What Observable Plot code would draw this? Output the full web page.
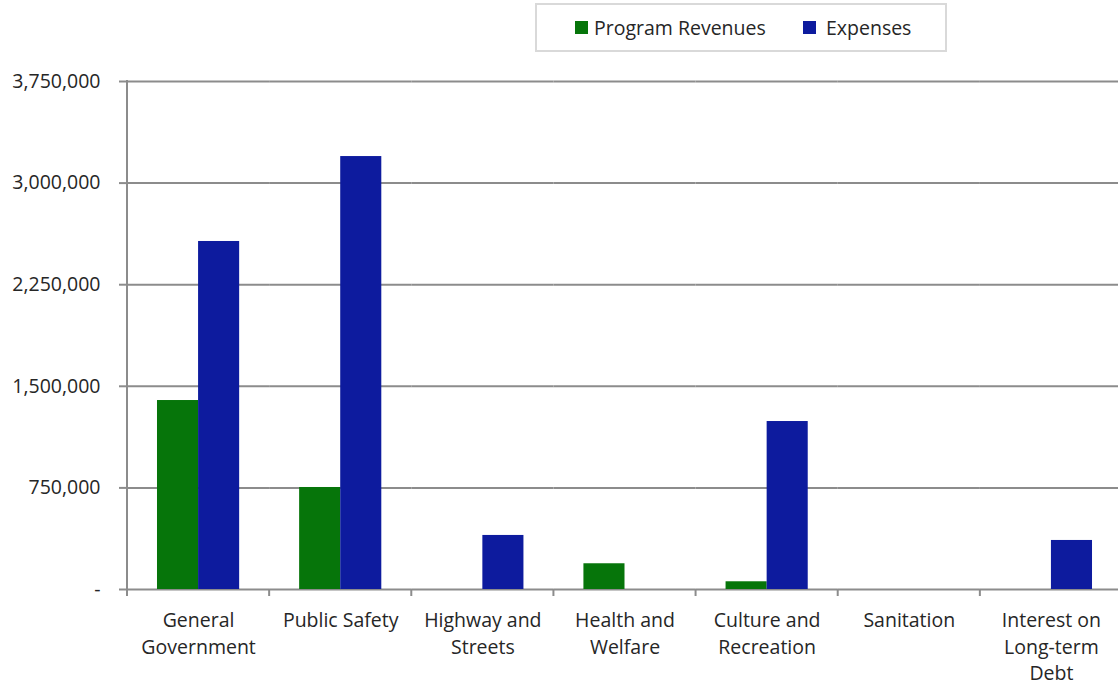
<!DOCTYPE html>
<html>
<head>
<meta charset="utf-8">
<script src="https://cdn.jsdelivr.net/npm/d3@7"></script>
<script src="https://cdn.jsdelivr.net/npm/@observablehq/plot@0.6"></script>
<style>
  html, body { margin: 0; padding: 0; background: #fff; overflow: hidden; }
  #wrap { position: relative; width: 1118px; height: 687px; font-family: "Open Sans", sans-serif; color: #262626; overflow: hidden; }
  #legend { position: absolute; left: 535px; top: 3px; width: 408px; height: 45px; border: 2px solid #d9d9d9; box-sizing: content-box;
            font-size: 19.5px; background: #fff; }
  #legend .item { display: flex; align-items: center; position: absolute; top: 0; height: 45px; }
  #legend .sw { width: 13px; height: 13px; }
</style>
</head>
<body>
<div id="wrap"><div id="legend"></div></div>
<script>
const categories = ["General Government", "Public Safety", "Highway and Streets", "Health and Welfare", "Culture and Recreation", "Sanitation", "Interest on Long-term Debt"];
const categoryLabels = ["General\nGovernment", "Public Safety", "Highway and\nStreets", "Health and\nWelfare", "Culture and\nRecreation", "Sanitation", "Interest on\nLong-term\nDebt"];
const series = ["Program Revenues", "Expenses"];
const programRevenues = [1395000, 753000, 0, 190000, 57000, 0, 0];
const expenses = [2569000, 3196000, 399000, 0, 1240000, 0, 362000];
const yTicks = [0, 750000, 1500000, 2250000, 3000000, 3750000];
const colors = ["#06750a", "#0d1b9e"];

const data = [];
categories.forEach((c, i) => {
  data.push({category: c, series: series[0], value: programRevenues[i]});
  data.push({category: c, series: series[1], value: expenses[i]});
});
const labelOf = new Map(categories.map((c, i) => [c, categoryLabels[i]]));
const grid = "#8c8c8c";

const W = 1118, H = 687, mT = 81, mB = 98, mL = 127, mR = -4;
const chart = Plot.plot({
  width: W, height: H,
  marginTop: mT, marginBottom: mB, marginLeft: mL, marginRight: mR,
  style: {fontFamily: "Open Sans, sans-serif", fontSize: "19.5px", color: "#262626", background: "transparent", overflow: "hidden"},
  fx: {domain: categories, padding: 0, label: null, axis: null, round: false},
  x: {domain: series, paddingInner: 0, paddingOuter: 0.73, axis: null, round: false},
  y: {domain: [0, 3750000], label: null},
  color: {domain: series, range: colors},
  marks: [
    Plot.ruleY(yTicks, {stroke: grid, strokeWidth: 2}),
    Plot.barY(data, {fx: "category", x: "series", y: "value", fill: "series"}),
    Plot.axisY({ticks: yTicks, tickSize: 8, tickPadding: 19, stroke: grid, strokeWidth: 2, strokeOpacity: 1,
                tickFormat: d => d === 0 ? "-" : d3.format(",")(d), label: null}),
    Plot.axisFx({anchor: "bottom", tickSize: 0, tickPadding: 18, lineHeight: 1.38, label: null, tickFormat: d => labelOf.get(d)})
  ]
});
document.getElementById("wrap").appendChild(chart);

// axis line and category boundary ticks, derived from the fx scale
const fx = chart.scale("fx");
const y = chart.scale("y");
const svg = d3.select(chart.tagName.toLowerCase() === "svg" ? chart : chart.querySelector("svg"));
const y0 = y.apply(0), yTop = y.apply(3750000);
const g = svg.append("g").attr("stroke", grid).attr("stroke-width", 2);
g.append("line").attr("x1", fx.range[0]).attr("x2", fx.range[0]).attr("y1", yTop - 1).attr("y2", y0 + 7);
const edges = categories.map(c => fx.apply(c)).concat([fx.apply(categories[categories.length - 1]) + fx.step]);
edges.forEach(x => g.append("line").attr("x1", x).attr("x2", x).attr("y1", y0).attr("y2", y0 + 7));

// legend
const legend = document.getElementById("legend");
const legendPos = [38, 266];
const legendGap = [6, 10];
series.forEach((s, i) => {
  const it = document.createElement("div");
  it.className = "item";
  it.style.left = legendPos[i] + "px";
  it.innerHTML = `<span class="sw" style="background:${colors[i]};margin-right:${legendGap[i]}px"></span><span>${s}</span>`;
  legend.appendChild(it);
});
svg.style("position", "absolute").style("left", 0).style("top", 0);
legend.style.zIndex = 2;
</script>
</body>
</html>
